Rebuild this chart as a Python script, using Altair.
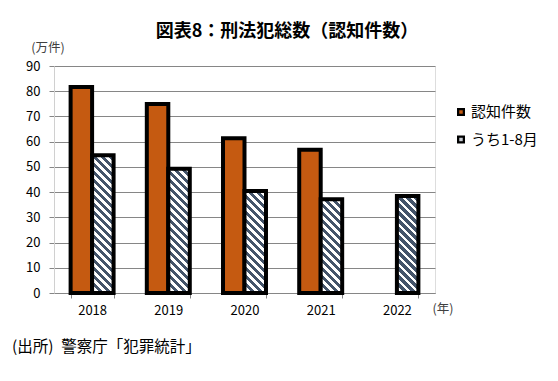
import altair as alt
import pandas as pd

# ---- data (values in 万件) ----
years = ["2018", "2019", "2020", "2021", "2022"]
recognized = [81.7, 74.9, 61.4, 56.8, None]
jan_aug = [54.6, 49.3, 40.4, 37.2, 38.5]
series = ["認知件数", "うち1-8月"]
y_ticks = [0, 10, 20, 30, 40, 50, 60, 70, 80, 90]

title_text = "図表8：刑法犯総数（認知件数）"
unit_text = "(万件)"
year_unit_text = "(年)"
source_text = "(出所)\u2002警察庁「犯罪統計」"

FONT = "Noto Sans CJK JP"
W, H = 381, 227
P_IN, P_OUT = 0.436, 0.218
ORANGE = "#C55A11"
DARK = "#44546A"

rows = []
for i, y in enumerate(years):
    if recognized[i] is not None:
        rows.append({"year": y, "series": series[0], "value": recognized[i]})
    rows.append({"year": y, "series": series[1], "value": jan_aug[i]})
df = pd.DataFrame(rows)

step = W / (len(years) - P_IN + 2 * P_OUT)
bar_w = step * (1 - P_IN) / 2


def hatch(value):
    h = value * H / 90.0
    w = bar_w
    s = (w + h) / (w * w + h * h)
    total = w + h
    stops = []
    pos = 0.0
    while pos < total:
        a = round(pos / total, 5)
        b = round(min((pos + 4.2) / total, 1.0), 5)
        c = round(min((pos + 8.0) / total, 1.0), 5)
        stops += [
            {"offset": a, "color": DARK},
            {"offset": b, "color": DARK},
            {"offset": b, "color": "#ffffff"},
            {"offset": c, "color": "#ffffff"},
        ]
        pos += 8.0
    return {"gradient": "linear", "x1": 0, "y1": 1,
            "x2": round(s * w, 5), "y2": round(1 - s * h, 5), "stops": stops}


x_enc = alt.X("year:N", scale=alt.Scale(domain=years, paddingInner=P_IN, paddingOuter=P_OUT),
              axis=alt.Axis(title=None, labelAngle=0, tickBand="extent", domainColor="#868686",
                            tickColor="#868686", tickSize=5, labelPadding=6, labelFontSize=13,
                            labelFont=FONT, labelColor="#000000", grid=False))
y_enc = alt.Y("value:Q", scale=alt.Scale(domain=[0, 90], nice=False),
              axis=alt.Axis(title=None, values=y_ticks, gridColor="#868686", domainColor="#d0d0d0",
                            tickColor="#868686", tickSize=5, labelPadding=9, labelFontSize=13,
                            labelFont=FONT, labelColor="#000000"))
xoff = alt.XOffset("series:N", scale=alt.Scale(domain=series, paddingInner=0, paddingOuter=0))

base = alt.Chart(df)

orange_bars = base.transform_filter(alt.datum.series == series[0]).mark_bar(
    fill=ORANGE, stroke="#000000", strokeWidth=4, strokeJoin="miter"
).encode(x=x_enc, y=y_enc, xOffset=xoff)

layers = [orange_bars]
for i, yr in enumerate(years):
    layers.append(
        base.transform_filter((alt.datum.series == series[1]) & (alt.datum.year == yr)).mark_bar(
            fill=hatch(jan_aug[i]), stroke="#000000", strokeWidth=4, strokeJoin="miter"
        ).encode(x=x_enc, y=y_enc, xOffset=xoff)
    )


def label(text, x, y, size, color="#000000", weight="normal", align="center"):
    return alt.Chart(pd.DataFrame({"t": [text]})).mark_text(
        font=FONT, fontSize=size, fontWeight=weight, color=color, align=align, baseline="middle"
    ).encode(text="t:N", x=alt.value(x), y=alt.value(y))


layers.append(label(title_text, 233, -34, 18, weight="bold"))
layers.append(label(unit_text, -6, -18, 12.5, color="#404040"))
layers.append(label(year_unit_text, 389, 243, 12.5, color="#404040"))
layers.append(label(source_text, -42, 281, 15.5, align="left"))

# legend
leg_colors = [ORANGE, "#c8ccd4"]
for i, name in enumerate(series):
    yy = 46 + i * 27.5
    layers.append(alt.Chart(pd.DataFrame({"t": [name]})).mark_point(
        shape="square", filled=True, color="#000000", size=64, opacity=1
    ).encode(x=alt.value(407), y=alt.value(yy)))
    layers.append(alt.Chart(pd.DataFrame({"t": [name]})).mark_point(
        shape="square", filled=True, color=leg_colors[i], size=12, opacity=1
    ).encode(x=alt.value(407), y=alt.value(yy)))
    layers.append(label(name, 417, yy, 15, align="left"))

chart = alt.layer(*layers).properties(
    width=W, height=H, autosize="none",
    padding={"left": 46, "top": 58, "right": 115, "bottom": 80},
).configure_view(stroke=None).configure(background="#ffffff")

chart.save("out.html", embed_options={"renderer": "svg", "actions": False})
